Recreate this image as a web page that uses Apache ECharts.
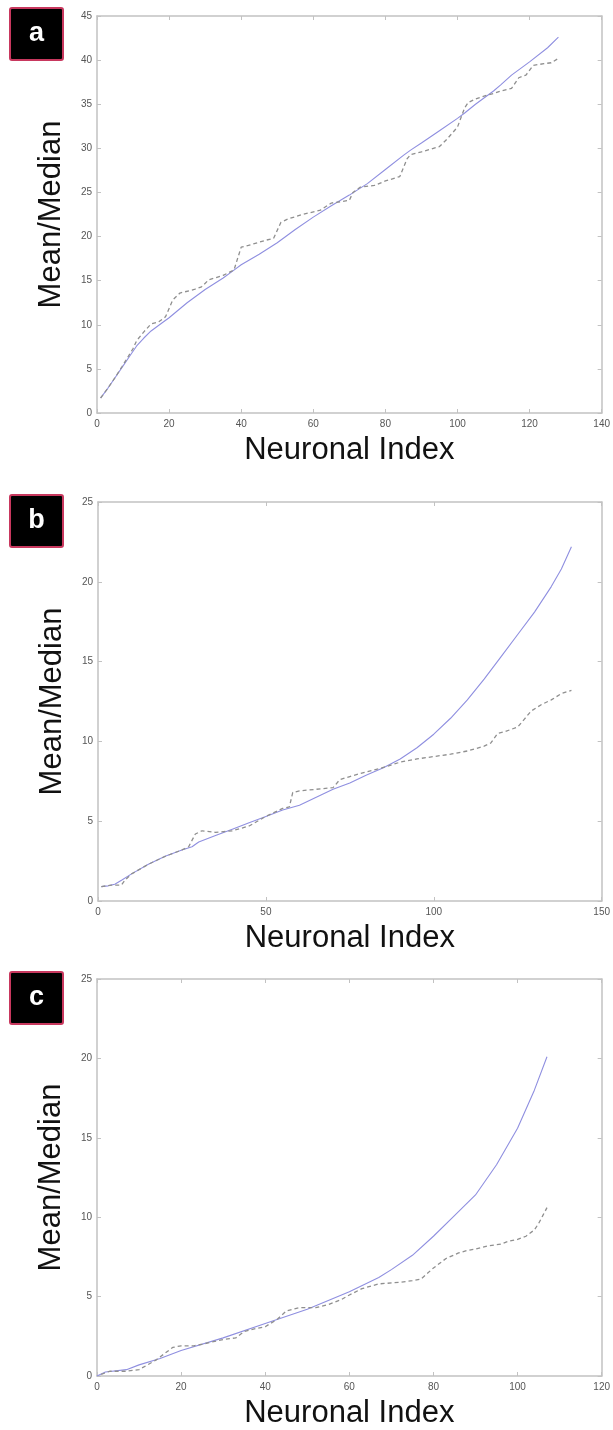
<!DOCTYPE html>
<html>
<head>
<meta charset="utf-8">
<script src="https://cdn.jsdelivr.net/npm/echarts@6/dist/echarts.min.js"></script>
<style>
  html, body { margin: 0; padding: 0; background: #fff; }
  #main { width: 613px; height: 1430px; }
</style>
</head>
<body>
<div id="main"></div>
<script>
// 数据：[神经元序号, 值]
var aMean = [[1,1.7],[3,2.8],[5,4.0],[7,5.2],[9,6.4],[11,7.6],[13,8.5],[15,9.3],[18,10.2],[20,10.8],[25,12.5],[30,14.0],[35,15.3],[38,16.2],[40,16.8],[45,18.0],[50,19.3],[55,20.8],[60,22.2],[65,23.5],[70,24.7],[75,26.0],[80,27.6],[85,29.2],[87,29.8],[90,30.6],[95,32.0],[100,33.4],[102,34.0],[105,35.0],[110,36.5],[112,37.2],[115,38.3],[120,39.8],[125,41.4],[128,42.6]];
var aMedian = [[1,1.7],[3,2.8],[5,4.0],[7,5.3],[10,7.3],[11,8.2],[13,9.2],[15,10.1],[17,10.3],[19,10.9],[21,12.8],[23,13.6],[27,14.0],[29,14.3],[31,15.1],[35,15.6],[38,16.2],[40,18.8],[42,19.0],[47,19.6],[49,19.8],[51,21.6],[53,22.0],[57,22.5],[62,23.0],[65,23.8],[70,24.1],[71,25.0],[73,25.6],[77,25.8],[80,26.3],[84,26.8],[86,28.8],[87,29.3],[90,29.6],[95,30.2],[97,31.0],[100,32.4],[102,34.6],[103,35.2],[105,35.6],[108,36.0],[110,36.2],[112,36.5],[115,36.8],[117,38.0],[119,38.3],[121,39.4],[124,39.6],[126,39.7],[128,40.2]];

var bMean = [[1,0.9],[3,0.95],[5,1.05],[7,1.3],[10,1.7],[15,2.3],[20,2.8],[25,3.2],[28,3.4],[30,3.7],[35,4.1],[40,4.5],[45,4.9],[50,5.3],[55,5.7],[60,6.0],[65,6.5],[70,7.0],[75,7.4],[80,7.9],[85,8.35],[90,8.9],[95,9.6],[100,10.45],[105,11.45],[110,12.6],[115,13.9],[120,15.3],[125,16.7],[130,18.1],[135,19.7],[138,20.8],[141,22.2]];
var bMedian = [[1,0.9],[4,1.0],[7,1.0],[8,1.3],[10,1.7],[15,2.3],[20,2.8],[25,3.2],[27,3.4],[29,4.2],[31,4.4],[35,4.3],[40,4.4],[45,4.7],[50,5.3],[55,5.8],[57,5.9],[58,6.8],[60,6.9],[70,7.1],[72,7.6],[75,7.8],[80,8.1],[84,8.3],[90,8.7],[95,8.9],[100,9.05],[105,9.2],[110,9.4],[115,9.7],[117,9.9],[119,10.5],[121,10.6],[125,10.9],[127,11.4],[129,11.9],[132,12.3],[135,12.6],[138,13.0],[141,13.2]];

var cMean = [[0,0],[2,0.25],[7,0.4],[10,0.7],[15,1.1],[20,1.6],[30,2.4],[40,3.3],[50,4.2],[60,5.3],[67,6.2],[70,6.7],[75,7.6],[80,8.8],[85,10.1],[90,11.4],[95,13.3],[100,15.6],[104,18.0],[107,20.1]];
var cMedian = [[1,0.1],[3,0.3],[7,0.3],[10,0.4],[12,0.7],[14,1.0],[16,1.4],[18,1.8],[20,1.9],[23,1.9],[25,2.0],[30,2.3],[33,2.4],[35,2.8],[38,3.0],[40,3.1],[43,3.6],[45,4.1],[48,4.3],[52,4.3],[55,4.5],[58,4.8],[60,5.1],[63,5.5],[67,5.8],[72,5.9],[75,6.0],[77,6.1],[80,6.8],[83,7.4],[86,7.75],[88,7.9],[90,8.0],[93,8.2],[96,8.3],[98,8.5],[100,8.6],[102,8.8],[104,9.2],[105,9.6],[106,10.1],[107,10.6]];

// 坐标轴范围
var xMax = [140, 150, 120];
var xStep = [20, 50, 20];
var yMax = [45, 25, 25];
var yStep = [5, 5, 5];
var panelNames = ['a', 'b', 'c'];

var grids = [
  { left: 97, top: 16, width: 505, height: 397 },
  { left: 98, top: 502, width: 505, height: 399 },
  { left: 97, top: 979, width: 507, height: 400 }
];

var frameColor = '#c2c2c2';
var labelStyle = { color: '#555', fontSize: 10, fontFamily: 'Liberation Sans, Arial' };

var xAxes = [], yAxes = [], series = [], graphics = [];

for (var i = 0; i < 3; i++) {
  // 底部x轴
  xAxes.push({
    type: 'value', gridIndex: i, min: 0, max: xMax[i], interval: xStep[i],
    name: 'Neuronal Index', nameLocation: 'middle', nameGap: 22,
    nameTextStyle: { fontSize: 31, color: '#111', fontFamily: 'Liberation Sans, Arial' },
    axisLine: { onZero: false, lineStyle: { color: frameColor, width: 1.5 } },
    axisTick: { inside: true, length: 4, lineStyle: { color: frameColor } },
    axisLabel: Object.assign({ margin: 6 }, labelStyle),
    splitLine: { show: false }
  });
  // 顶部x轴（只画边框和刻度）
  xAxes.push({
    type: 'value', gridIndex: i, position: 'top', min: 0, max: xMax[i], interval: xStep[i],
    axisLine: { onZero: false, lineStyle: { color: frameColor, width: 1.5 } },
    axisTick: { inside: true, length: 4, lineStyle: { color: frameColor } },
    axisLabel: { show: false },
    splitLine: { show: false }
  });
  // 左侧y轴
  yAxes.push({
    type: 'value', gridIndex: i, min: 0, max: yMax[i], interval: yStep[i],
    name: 'Mean/Median', nameLocation: 'middle', nameGap: 30,
    nameTextStyle: { fontSize: 31, color: '#111', fontFamily: 'Liberation Sans, Arial' },
    axisLine: { show: true, onZero: false, lineStyle: { color: frameColor, width: 1.5 } },
    axisTick: { show: true, inside: true, length: 4, lineStyle: { color: frameColor } },
    axisLabel: Object.assign({ margin: 5 }, labelStyle),
    splitLine: { show: false }
  });
  // 右侧y轴
  yAxes.push({
    type: 'value', gridIndex: i, position: 'right', min: 0, max: yMax[i], interval: yStep[i],
    axisLine: { show: true, onZero: false, lineStyle: { color: frameColor, width: 1.5 } },
    axisTick: { show: true, inside: true, length: 4, lineStyle: { color: frameColor } },
    axisLabel: { show: false },
    splitLine: { show: false }
  });

  // 面板标签
  graphics.push({
    type: 'group',
    left: 9,
    top: [7, 494, 971][i],
    children: [
      { type: 'rect', shape: { x: 0, y: 0, width: 53, height: 52, r: 2 },
        style: { fill: '#000', stroke: '#c8385e', lineWidth: 2 } },
      { type: 'text', x: 26.5, y: 26,
        style: { text: panelNames[i], fill: '#fff', font: 'bold 27px Liberation Sans, Arial',
                 textAlign: 'center', textVerticalAlign: 'middle' } }
    ]
  });
}

var means = [aMean, bMean, cMean];
var medians = [aMedian, bMedian, cMedian];
for (var j = 0; j < 3; j++) {
  series.push({
    name: 'Mean', type: 'line', xAxisIndex: j * 2, yAxisIndex: j * 2,
    data: means[j], showSymbol: false, silent: true,
    lineStyle: { color: '#8f8fe0', width: 1.1 }
  });
  series.push({
    name: 'Median', type: 'line', xAxisIndex: j * 2, yAxisIndex: j * 2,
    data: medians[j], showSymbol: false, silent: true,
    lineStyle: { color: '#8f8f8f', width: 1.3, type: [4, 3] }
  });
}

var myChart = echarts.init(document.getElementById('main'));
myChart.setOption({
  animation: false,
  backgroundColor: '#fff',
  grid: grids,
  xAxis: xAxes,
  yAxis: yAxes,
  series: series,
  graphic: graphics
});
</script>
</body>
</html>
